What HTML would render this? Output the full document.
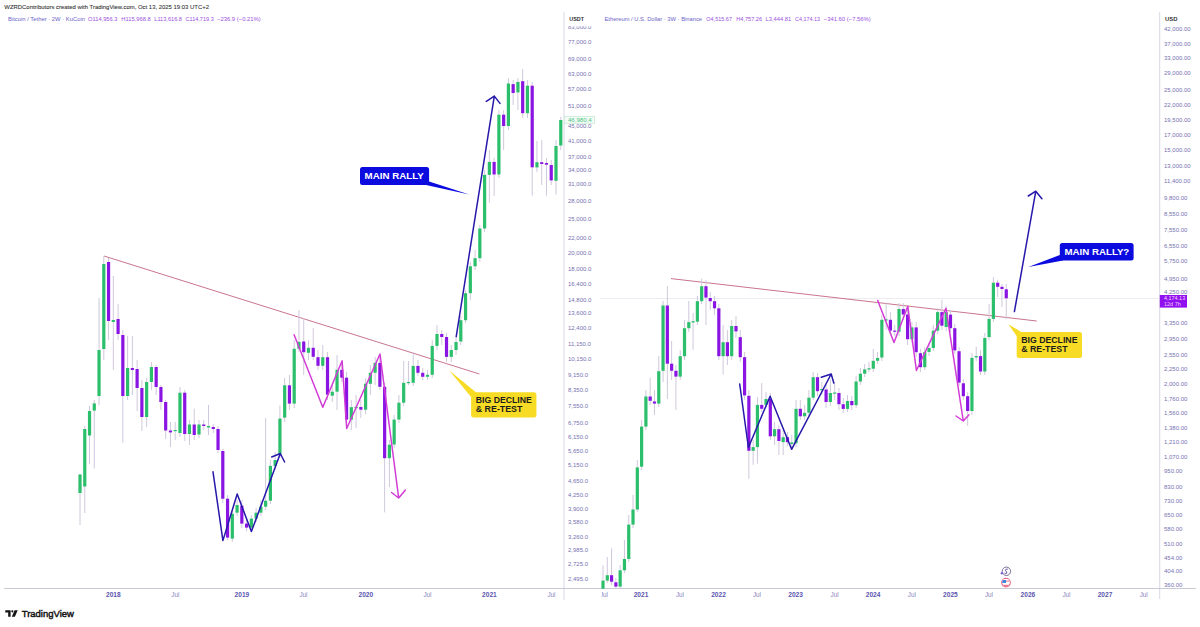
<!DOCTYPE html><html><head><meta charset="utf-8"><style>html,body{margin:0;padding:0;background:#fff;overflow:hidden}svg{display:block}text{font-family:"Liberation Sans",sans-serif}</style></head><body>
<svg width="1200" height="627" viewBox="0 0 1200 627">
<rect width="1200" height="627" fill="#ffffff"/>
<text x="4.3" y="8.8" font-size="5.9" fill="#2e2e2e" font-weight="normal" text-anchor="start" textLength="204.7" lengthAdjust="spacingAndGlyphs" stroke="#2e2e2e" stroke-width="0.07">WZRDContributors created with TradingView.com, Oct 13, 2025 19:03 UTC+2</text>
<text x="8" y="20.8" font-size="5.9" fill="#6c64c8" font-weight="normal" text-anchor="start" textLength="77" lengthAdjust="spacingAndGlyphs" >Bitcoin / Tether · 2W · KuCoin</text>
<text x="88" y="20.8" font-size="5.9" fill="#9a50e0" font-weight="normal" text-anchor="start" textLength="29.5" lengthAdjust="spacingAndGlyphs" >O114,956.3</text>
<text x="121.25" y="20.8" font-size="5.9" fill="#9a50e0" font-weight="normal" text-anchor="start" textLength="29.5" lengthAdjust="spacingAndGlyphs" >H115,968.8</text>
<text x="154.25" y="20.8" font-size="5.9" fill="#9a50e0" font-weight="normal" text-anchor="start" textLength="27.75" lengthAdjust="spacingAndGlyphs" >L113,616.8</text>
<text x="185.5" y="20.8" font-size="5.9" fill="#9a50e0" font-weight="normal" text-anchor="start" textLength="28.25" lengthAdjust="spacingAndGlyphs" >C114,719.3</text>
<text x="217" y="20.8" font-size="5.9" fill="#9a50e0" font-weight="normal" text-anchor="start" textLength="43.75" lengthAdjust="spacingAndGlyphs" >−236.9 (−0.21%)</text>
<text x="604.5" y="21" font-size="5.9" fill="#6c64c8" font-weight="normal" text-anchor="start" textLength="97.5" lengthAdjust="spacingAndGlyphs" >Ethereum / U.S. Dollar · 3W · Binance</text>
<text x="706.25" y="21" font-size="5.9" fill="#9a50e0" font-weight="normal" text-anchor="start" textLength="25.75" lengthAdjust="spacingAndGlyphs" >O4,515.67</text>
<text x="736.25" y="21" font-size="5.9" fill="#9a50e0" font-weight="normal" text-anchor="start" textLength="25.75" lengthAdjust="spacingAndGlyphs" >H4,757.26</text>
<text x="765.5" y="21" font-size="5.9" fill="#9a50e0" font-weight="normal" text-anchor="start" textLength="25.75" lengthAdjust="spacingAndGlyphs" >L3,444.81</text>
<text x="795" y="21" font-size="5.9" fill="#9a50e0" font-weight="normal" text-anchor="start" textLength="25" lengthAdjust="spacingAndGlyphs" >C4,174.13</text>
<text x="823.75" y="21" font-size="5.9" fill="#9a50e0" font-weight="normal" text-anchor="start" textLength="47.0" lengthAdjust="spacingAndGlyphs" >−341.60 (−7.56%)</text>
<path d="M564 12V600M1159.6 12V599" stroke="#e0e0ea" stroke-width="1.3" fill="none"/>
<path d="M4 588.5H1196" stroke="#c9c9d4" stroke-width="1" fill="none"/>
<path d="M600 298.5H1160" stroke="#ebebf1" stroke-width="1" fill="none"/>
<text x="569.3" y="20.8" font-size="5.9" fill="#333333" font-weight="bold" text-anchor="start" textLength="14.7" lengthAdjust="spacingAndGlyphs" >USDT</text>
<text x="1165" y="20.5" font-size="5.9" fill="#333333" font-weight="bold" text-anchor="start" >USD</text>
<defs><clipPath id="lc"><rect x="565" y="26.2" width="34" height="560"/></clipPath><clipPath id="rc"><rect x="599" y="0" width="561" height="627"/></clipPath><clipPath id="tc"><rect x="601.6" y="589" width="560" height="12"/></clipPath></defs>
<g clip-path="url(#lc)">
<text x="568" y="28.6" font-size="6" fill="#7672b2" font-weight="normal" text-anchor="start" >83,000.0</text>
<text x="568" y="44.0" font-size="6" fill="#7672b2" font-weight="normal" text-anchor="start" >77,000.0</text>
<text x="568" y="60.7" font-size="6" fill="#7672b2" font-weight="normal" text-anchor="start" >69,000.0</text>
<text x="568" y="75.6" font-size="6" fill="#7672b2" font-weight="normal" text-anchor="start" >63,000.0</text>
<text x="568" y="90.6" font-size="6" fill="#7672b2" font-weight="normal" text-anchor="start" >57,000.0</text>
<text x="568" y="108.3" font-size="6" fill="#7672b2" font-weight="normal" text-anchor="start" >51,000.0</text>
<text x="568" y="127.9" font-size="6" fill="#7672b2" font-weight="normal" text-anchor="start" >45,000.0</text>
<text x="568" y="142.7" font-size="6" fill="#7672b2" font-weight="normal" text-anchor="start" >41,000.0</text>
<text x="568" y="158.6" font-size="6" fill="#7672b2" font-weight="normal" text-anchor="start" >37,000.0</text>
<text x="568" y="172.0" font-size="6" fill="#7672b2" font-weight="normal" text-anchor="start" >34,000.0</text>
<text x="568" y="186.3" font-size="6" fill="#7672b2" font-weight="normal" text-anchor="start" >31,000.0</text>
<text x="568" y="202.5" font-size="6" fill="#7672b2" font-weight="normal" text-anchor="start" >28,000.0</text>
<text x="568" y="220.5" font-size="6" fill="#7672b2" font-weight="normal" text-anchor="start" >25,000.0</text>
<text x="568" y="239.9" font-size="6" fill="#7672b2" font-weight="normal" text-anchor="start" >22,000.0</text>
<text x="568" y="254.8" font-size="6" fill="#7672b2" font-weight="normal" text-anchor="start" >20,000.0</text>
<text x="568" y="271.4" font-size="6" fill="#7672b2" font-weight="normal" text-anchor="start" >18,000.0</text>
<text x="568" y="285.9" font-size="6" fill="#7672b2" font-weight="normal" text-anchor="start" >16,400.0</text>
<text x="568" y="302.0" font-size="6" fill="#7672b2" font-weight="normal" text-anchor="start" >14,800.0</text>
<text x="568" y="315.2" font-size="6" fill="#7672b2" font-weight="normal" text-anchor="start" >13,600.0</text>
<text x="568" y="330.1" font-size="6" fill="#7672b2" font-weight="normal" text-anchor="start" >12,400.0</text>
<text x="568" y="346.3" font-size="6" fill="#7672b2" font-weight="normal" text-anchor="start" >11,150.0</text>
<text x="568" y="361.0" font-size="6" fill="#7672b2" font-weight="normal" text-anchor="start" >10,150.0</text>
<text x="568" y="376.9" font-size="6" fill="#7672b2" font-weight="normal" text-anchor="start" >9,150.0</text>
<text x="568" y="391.8" font-size="6" fill="#7672b2" font-weight="normal" text-anchor="start" >8,350.0</text>
<text x="568" y="407.5" font-size="6" fill="#7672b2" font-weight="normal" text-anchor="start" >7,550.0</text>
<text x="568" y="425.1" font-size="6" fill="#7672b2" font-weight="normal" text-anchor="start" >6,750.0</text>
<text x="568" y="439.4" font-size="6" fill="#7672b2" font-weight="normal" text-anchor="start" >6,150.0</text>
<text x="568" y="452.5" font-size="6" fill="#7672b2" font-weight="normal" text-anchor="start" >5,650.0</text>
<text x="568" y="466.8" font-size="6" fill="#7672b2" font-weight="normal" text-anchor="start" >5,150.0</text>
<text x="568" y="483.3" font-size="6" fill="#7672b2" font-weight="normal" text-anchor="start" >4,650.0</text>
<text x="568" y="497.0" font-size="6" fill="#7672b2" font-weight="normal" text-anchor="start" >4,250.0</text>
<text x="568" y="510.8" font-size="6" fill="#7672b2" font-weight="normal" text-anchor="start" >3,900.0</text>
<text x="568" y="523.8" font-size="6" fill="#7672b2" font-weight="normal" text-anchor="start" >3,580.0</text>
<text x="568" y="538.6" font-size="6" fill="#7672b2" font-weight="normal" text-anchor="start" >3,260.0</text>
<text x="568" y="552.0" font-size="6" fill="#7672b2" font-weight="normal" text-anchor="start" >2,985.0</text>
<text x="568" y="566.3" font-size="6" fill="#7672b2" font-weight="normal" text-anchor="start" >2,725.0</text>
<text x="568" y="580.7" font-size="6" fill="#7672b2" font-weight="normal" text-anchor="start" >2,495.0</text>
</g>
<text x="1164" y="30.7" font-size="6" fill="#7672b2" font-weight="normal" text-anchor="start" >42,000.00</text>
<text x="1164" y="45.7" font-size="6" fill="#7672b2" font-weight="normal" text-anchor="start" >37,000.00</text>
<text x="1164" y="59.7" font-size="6" fill="#7672b2" font-weight="normal" text-anchor="start" >33,000.00</text>
<text x="1164" y="74.7" font-size="6" fill="#7672b2" font-weight="normal" text-anchor="start" >29,000.00</text>
<text x="1164" y="91.7" font-size="6" fill="#7672b2" font-weight="normal" text-anchor="start" >25,000.00</text>
<text x="1164" y="106.7" font-size="6" fill="#7672b2" font-weight="normal" text-anchor="start" >22,000.00</text>
<text x="1164" y="121.7" font-size="6" fill="#7672b2" font-weight="normal" text-anchor="start" >19,500.00</text>
<text x="1164" y="136.7" font-size="6" fill="#7672b2" font-weight="normal" text-anchor="start" >17,000.00</text>
<text x="1164" y="151.7" font-size="6" fill="#7672b2" font-weight="normal" text-anchor="start" >15,000.00</text>
<text x="1164" y="167.7" font-size="6" fill="#7672b2" font-weight="normal" text-anchor="start" >13,000.00</text>
<text x="1164" y="182.7" font-size="6" fill="#7672b2" font-weight="normal" text-anchor="start" >11,400.00</text>
<text x="1164" y="199.7" font-size="6" fill="#7672b2" font-weight="normal" text-anchor="start" >9,800.00</text>
<text x="1164" y="215.7" font-size="6" fill="#7672b2" font-weight="normal" text-anchor="start" >8,550.00</text>
<text x="1164" y="231.7" font-size="6" fill="#7672b2" font-weight="normal" text-anchor="start" >7,550.00</text>
<text x="1164" y="247.7" font-size="6" fill="#7672b2" font-weight="normal" text-anchor="start" >6,550.00</text>
<text x="1164" y="262.7" font-size="6" fill="#7672b2" font-weight="normal" text-anchor="start" >5,750.00</text>
<text x="1164" y="280.7" font-size="6" fill="#7672b2" font-weight="normal" text-anchor="start" >4,950.00</text>
<text x="1164" y="294.2" font-size="6" fill="#7672b2" font-weight="normal" text-anchor="start" >4,250.00</text>
<text x="1164" y="324.7" font-size="6" fill="#7672b2" font-weight="normal" text-anchor="start" >3,350.00</text>
<text x="1164" y="340.7" font-size="6" fill="#7672b2" font-weight="normal" text-anchor="start" >2,950.00</text>
<text x="1164" y="356.7" font-size="6" fill="#7672b2" font-weight="normal" text-anchor="start" >2,550.00</text>
<text x="1164" y="370.7" font-size="6" fill="#7672b2" font-weight="normal" text-anchor="start" >2,250.00</text>
<text x="1164" y="385.7" font-size="6" fill="#7672b2" font-weight="normal" text-anchor="start" >2,000.00</text>
<text x="1164" y="400.7" font-size="6" fill="#7672b2" font-weight="normal" text-anchor="start" >1,760.00</text>
<text x="1164" y="414.7" font-size="6" fill="#7672b2" font-weight="normal" text-anchor="start" >1,560.00</text>
<text x="1164" y="429.7" font-size="6" fill="#7672b2" font-weight="normal" text-anchor="start" >1,380.00</text>
<text x="1164" y="443.7" font-size="6" fill="#7672b2" font-weight="normal" text-anchor="start" >1,210.00</text>
<text x="1164" y="458.7" font-size="6" fill="#7672b2" font-weight="normal" text-anchor="start" >1,070.00</text>
<text x="1164" y="472.7" font-size="6" fill="#7672b2" font-weight="normal" text-anchor="start" >950.00</text>
<text x="1164" y="488.7" font-size="6" fill="#7672b2" font-weight="normal" text-anchor="start" >830.00</text>
<text x="1164" y="502.7" font-size="6" fill="#7672b2" font-weight="normal" text-anchor="start" >730.00</text>
<text x="1164" y="516.7" font-size="6" fill="#7672b2" font-weight="normal" text-anchor="start" >650.00</text>
<text x="1164" y="530.7" font-size="6" fill="#7672b2" font-weight="normal" text-anchor="start" >580.00</text>
<text x="1164" y="545.7" font-size="6" fill="#7672b2" font-weight="normal" text-anchor="start" >510.00</text>
<text x="1164" y="559.7" font-size="6" fill="#7672b2" font-weight="normal" text-anchor="start" >454.00</text>
<text x="1164" y="572.7" font-size="6" fill="#7672b2" font-weight="normal" text-anchor="start" >404.00</text>
<text x="1164" y="586.7" font-size="6" fill="#7672b2" font-weight="normal" text-anchor="start" >360.00</text>
<text x="113.3" y="597" font-size="6.3" fill="#5b54b0" font-weight="bold" text-anchor="middle" textLength="14.6" lengthAdjust="spacingAndGlyphs" >2018</text>
<text x="241.9" y="597" font-size="6.3" fill="#5b54b0" font-weight="bold" text-anchor="middle" textLength="14.6" lengthAdjust="spacingAndGlyphs" >2019</text>
<text x="365.8" y="597" font-size="6.3" fill="#5b54b0" font-weight="bold" text-anchor="middle" textLength="14.6" lengthAdjust="spacingAndGlyphs" >2020</text>
<text x="489.4" y="597" font-size="6.3" fill="#5b54b0" font-weight="bold" text-anchor="middle" textLength="14.6" lengthAdjust="spacingAndGlyphs" >2021</text>
<text x="175.4" y="597" font-size="6.3" fill="#8a86c0" font-weight="normal" text-anchor="middle" >Jul</text>
<text x="303.5" y="597" font-size="6.3" fill="#8a86c0" font-weight="normal" text-anchor="middle" >Jul</text>
<text x="427.5" y="597" font-size="6.3" fill="#8a86c0" font-weight="normal" text-anchor="middle" >Jul</text>
<text x="551.5" y="597" font-size="6.3" fill="#8a86c0" font-weight="normal" text-anchor="middle" >Jul</text>
<g clip-path="url(#tc)">
<text x="641" y="597" font-size="6.3" fill="#5b54b0" font-weight="bold" text-anchor="middle" textLength="14.6" lengthAdjust="spacingAndGlyphs" >2021</text>
<text x="718.5" y="597" font-size="6.3" fill="#5b54b0" font-weight="bold" text-anchor="middle" textLength="14.6" lengthAdjust="spacingAndGlyphs" >2022</text>
<text x="795.6" y="597" font-size="6.3" fill="#5b54b0" font-weight="bold" text-anchor="middle" textLength="14.6" lengthAdjust="spacingAndGlyphs" >2023</text>
<text x="873.1" y="597" font-size="6.3" fill="#5b54b0" font-weight="bold" text-anchor="middle" textLength="14.6" lengthAdjust="spacingAndGlyphs" >2024</text>
<text x="950.4" y="597" font-size="6.3" fill="#5b54b0" font-weight="bold" text-anchor="middle" textLength="14.6" lengthAdjust="spacingAndGlyphs" >2025</text>
<text x="1027.9" y="597" font-size="6.3" fill="#5b54b0" font-weight="bold" text-anchor="middle" textLength="14.6" lengthAdjust="spacingAndGlyphs" >2026</text>
<text x="1105" y="597" font-size="6.3" fill="#5b54b0" font-weight="bold" text-anchor="middle" textLength="14.6" lengthAdjust="spacingAndGlyphs" >2027</text>
<text x="604" y="597" font-size="6.3" fill="#8a86c0" font-weight="normal" text-anchor="middle" >Jul</text>
<text x="680" y="597" font-size="6.3" fill="#8a86c0" font-weight="normal" text-anchor="middle" >Jul</text>
<text x="757" y="597" font-size="6.3" fill="#8a86c0" font-weight="normal" text-anchor="middle" >Jul</text>
<text x="834.6" y="597" font-size="6.3" fill="#8a86c0" font-weight="normal" text-anchor="middle" >Jul</text>
<text x="911.9" y="597" font-size="6.3" fill="#8a86c0" font-weight="normal" text-anchor="middle" >Jul</text>
<text x="989" y="597" font-size="6.3" fill="#8a86c0" font-weight="normal" text-anchor="middle" >Jul</text>
<text x="1066.5" y="597" font-size="6.3" fill="#8a86c0" font-weight="normal" text-anchor="middle" >Jul</text>
<text x="1143.7" y="597" font-size="6.3" fill="#8a86c0" font-weight="normal" text-anchor="middle" >Jul</text>
</g>
<path d="M104 256L479.4 374" stroke="#c8758f" stroke-width="1" fill="none"/>
<path d="M671 278.6L1036.7 321" stroke="#c8758f" stroke-width="1" fill="none"/>
<path d="M80.00 474.0V525.0M84.76 426.0V513.0M89.52 406.0V464.0M94.28 400.0V468.5M99.04 298.0V405.0M103.80 256.0V360.0M108.56 258.0V340.0M113.32 276.0V370.0M118.08 304.0V340.0M122.84 330.0V442.7M127.60 336.0V400.0M132.36 336.0V395.0M137.12 360.0V411.0M141.88 380.0V431.0M146.64 378.0V427.0M151.40 362.0V390.0M156.16 365.0V395.0M160.92 385.0V410.0M165.68 400.0V439.0M170.44 422.0V447.0M175.20 422.0V440.0M179.96 387.0V437.0M184.72 390.0V441.0M189.48 420.0V445.0M194.24 408.5V440.0M199.00 420.0V438.0M203.76 420.0V430.0M208.52 405.0V435.0M213.28 424.0V433.0M218.04 426.0V453.0M222.80 449.0V503.0M227.56 495.0V540.0M232.32 510.0V542.0M237.08 500.0V516.0M241.84 500.0V528.0M246.60 520.0V531.0M251.36 515.0V531.0M256.12 508.0V522.0M260.88 500.0V516.0M265.64 418.0V510.0M270.40 460.0V504.0M275.16 452.0V470.0M279.92 405.6V458.0M284.68 378.0V422.0M289.44 375.0V410.0M294.20 340.0V408.0M298.96 310.0V352.0M303.72 318.0V375.0M308.48 340.0V360.0M313.24 328.0V360.0M318.00 350.0V370.0M322.76 345.0V370.0M327.52 352.0V400.0M332.28 385.0V402.0M337.04 355.0V410.0M341.80 362.0V382.0M346.56 372.0V424.0M351.32 400.0V430.0M356.08 395.0V428.0M360.84 400.0V418.0M365.60 378.0V414.0M370.36 365.0V395.0M375.12 357.0V385.0M379.88 355.0V390.0M384.64 383.0V512.4M389.40 440.0V487.0M394.16 415.0V448.0M398.92 395.0V423.0M403.68 361.0V406.0M408.44 361.0V385.0M413.20 352.0V386.0M417.96 360.0V376.0M422.72 368.0V380.0M427.48 370.0V380.0M432.24 340.0V378.0M437.00 325.0V350.0M441.76 330.0V345.0M446.52 333.0V362.0M451.28 345.0V362.0M456.04 338.0V355.0M460.80 316.0V345.0M465.56 290.0V323.0M470.32 262.0V300.0M475.08 250.0V270.0M479.84 225.0V262.0M484.60 170.0V232.0M489.36 150.0V202.7M494.12 158.0V196.0M498.88 110.0V178.0M503.64 110.0V150.0M508.40 78.0V130.0M513.16 80.0V105.0M517.92 78.0V110.0M522.68 69.0V118.0M527.44 80.0V118.0M532.20 82.0V195.7M536.96 141.0V171.8M541.72 140.0V185.0M546.48 158.0V195.7M551.24 160.0V185.0M556.00 140.0V194.7M560.76 117.0V150.0" stroke="#d0c8dc" stroke-width="1" fill="none"/>
<rect x="78.40" y="474.5" width="3.2" height="18.5" fill="#2bbf6c"/><rect x="83.16" y="429.0" width="3.2" height="57.5" fill="#2bbf6c"/><rect x="87.92" y="411.0" width="3.2" height="24.5" fill="#2bbf6c"/><rect x="92.68" y="403.4" width="3.2" height="7.2" fill="#2bbf6c"/><rect x="97.44" y="350.0" width="3.2" height="46.0" fill="#2bbf6c"/><rect x="102.20" y="264.0" width="3.2" height="85.0" fill="#2bbf6c"/><rect x="106.96" y="262.0" width="3.2" height="59.0" fill="#8a14e2"/><rect x="111.72" y="320.0" width="3.2" height="2.0" fill="#2bbf6c"/><rect x="116.48" y="319.0" width="3.2" height="15.0" fill="#8a14e2"/><rect x="121.24" y="335.0" width="3.2" height="61.0" fill="#8a14e2"/><rect x="126.00" y="368.0" width="3.2" height="28.0" fill="#2bbf6c"/><rect x="130.76" y="368.0" width="3.2" height="2.0" fill="#8a14e2"/><rect x="135.52" y="369.0" width="3.2" height="19.0" fill="#8a14e2"/><rect x="140.28" y="388.0" width="3.2" height="29.0" fill="#8a14e2"/><rect x="145.04" y="382.0" width="3.2" height="35.0" fill="#2bbf6c"/><rect x="149.80" y="367.0" width="3.2" height="15.0" fill="#2bbf6c"/><rect x="154.56" y="367.0" width="3.2" height="20.0" fill="#8a14e2"/><rect x="159.32" y="387.0" width="3.2" height="15.0" fill="#8a14e2"/><rect x="164.08" y="402.0" width="3.2" height="28.5" fill="#8a14e2"/><rect x="168.84" y="430.5" width="3.2" height="1.9" fill="#8a14e2"/><rect x="173.60" y="430.0" width="3.2" height="1.2" fill="#2bbf6c"/><rect x="178.36" y="392.7" width="3.2" height="40.3" fill="#2bbf6c"/><rect x="183.12" y="392.7" width="3.2" height="41.3" fill="#8a14e2"/><rect x="187.88" y="424.5" width="3.2" height="9.5" fill="#2bbf6c"/><rect x="192.64" y="424.5" width="3.2" height="10.5" fill="#8a14e2"/><rect x="197.40" y="424.5" width="3.2" height="10.0" fill="#2bbf6c"/><rect x="202.16" y="424.5" width="3.2" height="1.5" fill="#8a14e2"/><rect x="206.92" y="426.0" width="3.2" height="1.5" fill="#2bbf6c"/><rect x="211.68" y="427.0" width="3.2" height="2.0" fill="#8a14e2"/><rect x="216.44" y="429.0" width="3.2" height="21.0" fill="#8a14e2"/><rect x="221.20" y="451.0" width="3.2" height="47.7" fill="#8a14e2"/><rect x="225.96" y="498.7" width="3.2" height="38.9" fill="#8a14e2"/><rect x="230.72" y="513.7" width="3.2" height="24.9" fill="#2bbf6c"/><rect x="235.48" y="505.0" width="3.2" height="7.7" fill="#2bbf6c"/><rect x="240.24" y="505.7" width="3.2" height="17.9" fill="#8a14e2"/><rect x="245.00" y="523.6" width="3.2" height="4.0" fill="#8a14e2"/><rect x="249.76" y="518.6" width="3.2" height="9.0" fill="#2bbf6c"/><rect x="254.52" y="512.7" width="3.2" height="5.9" fill="#2bbf6c"/><rect x="259.28" y="506.7" width="3.2" height="6.0" fill="#2bbf6c"/><rect x="264.04" y="500.7" width="3.2" height="6.0" fill="#2bbf6c"/><rect x="268.80" y="465.9" width="3.2" height="34.8" fill="#2bbf6c"/><rect x="273.56" y="460.0" width="3.2" height="6.0" fill="#2bbf6c"/><rect x="278.32" y="418.6" width="3.2" height="35.4" fill="#2bbf6c"/><rect x="283.08" y="385.3" width="3.2" height="32.3" fill="#2bbf6c"/><rect x="287.84" y="385.3" width="3.2" height="18.3" fill="#8a14e2"/><rect x="292.60" y="348.8" width="3.2" height="54.8" fill="#2bbf6c"/><rect x="297.36" y="341.9" width="3.2" height="6.9" fill="#2bbf6c"/><rect x="302.12" y="341.5" width="3.2" height="10.7" fill="#8a14e2"/><rect x="306.88" y="347.8" width="3.2" height="5.0" fill="#2bbf6c"/><rect x="311.64" y="347.8" width="3.2" height="9.0" fill="#8a14e2"/><rect x="316.40" y="357.2" width="3.2" height="8.6" fill="#8a14e2"/><rect x="321.16" y="357.2" width="3.2" height="8.6" fill="#2bbf6c"/><rect x="325.92" y="357.2" width="3.2" height="37.5" fill="#8a14e2"/><rect x="330.68" y="391.7" width="3.2" height="4.0" fill="#2bbf6c"/><rect x="335.44" y="369.8" width="3.2" height="21.9" fill="#2bbf6c"/><rect x="340.20" y="369.8" width="3.2" height="7.9" fill="#8a14e2"/><rect x="344.96" y="377.7" width="3.2" height="41.9" fill="#8a14e2"/><rect x="349.72" y="407.2" width="3.2" height="12.4" fill="#2bbf6c"/><rect x="354.48" y="407.0" width="3.2" height="1.2" fill="#2bbf6c"/><rect x="359.24" y="407.0" width="3.2" height="2.7" fill="#8a14e2"/><rect x="364.00" y="383.7" width="3.2" height="26.0" fill="#2bbf6c"/><rect x="368.76" y="372.8" width="3.2" height="11.0" fill="#2bbf6c"/><rect x="373.52" y="362.9" width="3.2" height="9.9" fill="#2bbf6c"/><rect x="378.28" y="362.9" width="3.2" height="23.9" fill="#8a14e2"/><rect x="383.04" y="386.8" width="3.2" height="71.4" fill="#8a14e2"/><rect x="387.80" y="444.7" width="3.2" height="13.5" fill="#2bbf6c"/><rect x="392.56" y="419.6" width="3.2" height="24.9" fill="#2bbf6c"/><rect x="397.32" y="402.7" width="3.2" height="16.9" fill="#2bbf6c"/><rect x="402.08" y="382.8" width="3.2" height="19.9" fill="#2bbf6c"/><rect x="406.84" y="382.0" width="3.2" height="1.2" fill="#2bbf6c"/><rect x="411.60" y="365.9" width="3.2" height="16.9" fill="#2bbf6c"/><rect x="416.36" y="365.9" width="3.2" height="6.9" fill="#8a14e2"/><rect x="421.12" y="372.8" width="3.2" height="4.0" fill="#8a14e2"/><rect x="425.88" y="374.8" width="3.2" height="2.0" fill="#2bbf6c"/><rect x="430.64" y="345.9" width="3.2" height="28.9" fill="#2bbf6c"/><rect x="435.40" y="334.0" width="3.2" height="11.9" fill="#2bbf6c"/><rect x="440.16" y="334.0" width="3.2" height="3.0" fill="#8a14e2"/><rect x="444.92" y="337.0" width="3.2" height="19.9" fill="#8a14e2"/><rect x="449.68" y="350.0" width="3.2" height="6.9" fill="#2bbf6c"/><rect x="454.44" y="342.0" width="3.2" height="8.0" fill="#2bbf6c"/><rect x="459.20" y="320.2" width="3.2" height="21.3" fill="#2bbf6c"/><rect x="463.96" y="293.2" width="3.2" height="27.0" fill="#2bbf6c"/><rect x="468.72" y="266.3" width="3.2" height="26.9" fill="#2bbf6c"/><rect x="473.48" y="258.2" width="3.2" height="8.1" fill="#2bbf6c"/><rect x="478.24" y="228.5" width="3.2" height="29.7" fill="#2bbf6c"/><rect x="483.00" y="174.9" width="3.2" height="53.6" fill="#2bbf6c"/><rect x="487.76" y="161.9" width="3.2" height="13.0" fill="#2bbf6c"/><rect x="492.52" y="161.9" width="3.2" height="12.6" fill="#8a14e2"/><rect x="497.28" y="114.7" width="3.2" height="59.8" fill="#2bbf6c"/><rect x="502.04" y="114.7" width="3.2" height="11.3" fill="#8a14e2"/><rect x="506.80" y="83.5" width="3.2" height="42.5" fill="#2bbf6c"/><rect x="511.56" y="84.1" width="3.2" height="8.9" fill="#8a14e2"/><rect x="516.32" y="81.9" width="3.2" height="10.5" fill="#2bbf6c"/><rect x="521.08" y="81.2" width="3.2" height="32.0" fill="#8a14e2"/><rect x="525.84" y="85.7" width="3.2" height="27.5" fill="#2bbf6c"/><rect x="530.60" y="85.7" width="3.2" height="81.6" fill="#8a14e2"/><rect x="535.36" y="162.2" width="3.2" height="5.2" fill="#2bbf6c"/><rect x="540.12" y="162.2" width="3.2" height="1.8" fill="#8a14e2"/><rect x="544.88" y="163.0" width="3.2" height="1.7" fill="#8a14e2"/><rect x="549.64" y="165.0" width="3.2" height="15.4" fill="#8a14e2"/><rect x="554.40" y="146.0" width="3.2" height="34.8" fill="#2bbf6c"/><rect x="559.16" y="120.0" width="3.2" height="25.5" fill="#2bbf6c"/>
<g clip-path="url(#rc)">
<path d="M603.00 565.5V589.0M607.29 557.0V583.0M611.58 548.3V585.0M615.87 578.0V589.0M620.16 565.0V589.0M624.45 540.0V573.0M628.74 515.0V562.0M633.03 495.0V528.0M637.32 460.0V512.0M641.61 420.0V470.0M645.90 390.0V430.0M650.19 377.7V405.0M654.48 390.0V415.0M658.77 356.0V407.0M663.06 301.0V382.0M667.35 286.2V399.0M671.64 341.0V380.0M675.93 365.0V410.0M680.22 350.0V380.0M684.51 320.0V360.0M688.80 301.0V332.0M693.09 313.0V349.7M697.38 296.0V325.0M701.67 278.6V304.0M705.96 280.0V325.0M710.25 292.0V310.0M714.54 296.0V315.0M718.83 304.0V360.0M723.12 325.0V374.5M727.41 330.0V365.0M731.70 320.0V360.0M735.99 316.3V338.0M740.28 330.0V362.0M744.57 352.0V400.0M748.86 390.0V478.8M753.15 440.0V464.8M757.44 397.0V463.7M761.73 383.0V412.0M766.02 392.0V408.0M770.31 393.0V440.0M774.60 422.0V445.0M778.89 425.0V455.0M783.18 430.0V455.0M787.47 432.0V446.0M791.76 435.0V450.0M796.05 400.0V447.0M800.34 400.0V420.0M804.63 405.0V420.0M808.92 390.0V416.0M813.21 372.0V400.0M817.50 373.0V396.0M821.79 382.0V395.0M826.08 385.0V408.0M830.37 379.4V406.0M834.66 382.0V400.0M838.95 388.0V410.0M843.24 398.0V413.0M847.53 395.0V412.0M851.82 396.0V410.0M856.11 376.0V408.0M860.40 368.0V385.0M864.69 364.0V377.0M868.98 362.0V372.0M873.27 349.0V372.0M877.56 352.0V364.0M881.85 315.0V361.0M886.14 302.6V330.0M890.43 312.0V335.0M894.72 325.0V336.0M899.01 303.0V336.0M903.30 303.0V320.0M907.59 310.0V345.0M911.88 322.0V343.0M916.17 322.0V357.0M920.46 349.0V372.0M924.75 347.0V370.0M929.04 343.0V356.0M933.33 325.0V351.0M937.62 308.0V334.0M941.91 299.7V330.0M946.20 306.0V331.0M950.49 310.0V332.0M954.78 324.0V354.0M959.07 347.0V386.0M963.36 379.0V400.0M967.65 392.0V425.9M971.94 353.0V415.0M976.23 346.7V361.0M980.52 350.0V375.0M984.81 333.0V375.0M989.10 304.0V340.0M993.39 277.2V322.0M997.68 280.0V297.0M1001.97 284.0V307.0M1006.26 284.0V319.3" stroke="#d0c8dc" stroke-width="1" fill="none"/>
<rect x="601.40" y="580.6" width="3.2" height="8.2" fill="#2bbf6c"/><rect x="605.69" y="575.2" width="3.2" height="5.4" fill="#2bbf6c"/><rect x="609.98" y="575.2" width="3.2" height="6.5" fill="#8a14e2"/><rect x="614.27" y="582.3" width="3.2" height="4.3" fill="#8a14e2"/><rect x="618.56" y="570.3" width="3.2" height="16.3" fill="#2bbf6c"/><rect x="622.85" y="559.0" width="3.2" height="11.3" fill="#2bbf6c"/><rect x="627.14" y="524.6" width="3.2" height="34.4" fill="#2bbf6c"/><rect x="631.43" y="509.5" width="3.2" height="15.1" fill="#2bbf6c"/><rect x="635.72" y="467.4" width="3.2" height="42.1" fill="#2bbf6c"/><rect x="640.01" y="426.6" width="3.2" height="40.1" fill="#2bbf6c"/><rect x="644.30" y="396.5" width="3.2" height="30.1" fill="#2bbf6c"/><rect x="648.59" y="396.5" width="3.2" height="4.3" fill="#8a14e2"/><rect x="652.88" y="401.5" width="3.2" height="2.1" fill="#8a14e2"/><rect x="657.17" y="371.2" width="3.2" height="32.4" fill="#2bbf6c"/><rect x="661.46" y="305.5" width="3.2" height="65.3" fill="#2bbf6c"/><rect x="665.75" y="305.5" width="3.2" height="58.2" fill="#8a14e2"/><rect x="670.04" y="363.7" width="3.2" height="7.1" fill="#8a14e2"/><rect x="674.33" y="370.8" width="3.2" height="5.8" fill="#8a14e2"/><rect x="678.62" y="356.2" width="3.2" height="20.4" fill="#2bbf6c"/><rect x="682.91" y="328.2" width="3.2" height="28.0" fill="#2bbf6c"/><rect x="687.20" y="322.1" width="3.2" height="6.1" fill="#2bbf6c"/><rect x="691.49" y="321.2" width="3.2" height="1.3" fill="#2bbf6c"/><rect x="695.78" y="301.2" width="3.2" height="20.5" fill="#2bbf6c"/><rect x="700.07" y="286.2" width="3.2" height="15.0" fill="#2bbf6c"/><rect x="704.36" y="286.2" width="3.2" height="11.4" fill="#8a14e2"/><rect x="708.65" y="298.0" width="3.2" height="3.2" fill="#8a14e2"/><rect x="712.94" y="301.2" width="3.2" height="7.1" fill="#8a14e2"/><rect x="717.23" y="308.3" width="3.2" height="47.9" fill="#8a14e2"/><rect x="721.52" y="342.2" width="3.2" height="14.0" fill="#2bbf6c"/><rect x="725.81" y="342.2" width="3.2" height="14.0" fill="#8a14e2"/><rect x="730.10" y="326.0" width="3.2" height="30.2" fill="#2bbf6c"/><rect x="734.39" y="326.0" width="3.2" height="5.4" fill="#8a14e2"/><rect x="738.68" y="337.2" width="3.2" height="20.0" fill="#8a14e2"/><rect x="742.97" y="357.2" width="3.2" height="38.2" fill="#8a14e2"/><rect x="747.26" y="395.8" width="3.2" height="55.0" fill="#8a14e2"/><rect x="751.55" y="447.1" width="3.2" height="3.7" fill="#2bbf6c"/><rect x="755.84" y="404.9" width="3.2" height="42.2" fill="#2bbf6c"/><rect x="760.13" y="404.9" width="3.2" height="3.9" fill="#8a14e2"/><rect x="764.42" y="399.0" width="3.2" height="5.9" fill="#2bbf6c"/><rect x="768.71" y="399.0" width="3.2" height="37.3" fill="#8a14e2"/><rect x="773.00" y="429.2" width="3.2" height="7.1" fill="#2bbf6c"/><rect x="777.29" y="429.2" width="3.2" height="11.8" fill="#8a14e2"/><rect x="781.58" y="437.2" width="3.2" height="5.0" fill="#2bbf6c"/><rect x="785.87" y="437.2" width="3.2" height="5.0" fill="#8a14e2"/><rect x="790.16" y="442.5" width="3.2" height="1.5" fill="#2bbf6c"/><rect x="794.45" y="408.8" width="3.2" height="34.4" fill="#2bbf6c"/><rect x="798.74" y="408.8" width="3.2" height="7.5" fill="#8a14e2"/><rect x="803.03" y="412.8" width="3.2" height="3.5" fill="#2bbf6c"/><rect x="807.32" y="397.7" width="3.2" height="15.1" fill="#2bbf6c"/><rect x="811.61" y="377.2" width="3.2" height="20.5" fill="#2bbf6c"/><rect x="815.90" y="377.2" width="3.2" height="14.0" fill="#8a14e2"/><rect x="820.19" y="389.0" width="3.2" height="1.2" fill="#2bbf6c"/><rect x="824.48" y="389.5" width="3.2" height="12.5" fill="#8a14e2"/><rect x="828.77" y="393.0" width="3.2" height="9.0" fill="#2bbf6c"/><rect x="833.06" y="392.5" width="3.2" height="1.2" fill="#2bbf6c"/><rect x="837.35" y="393.0" width="3.2" height="11.2" fill="#8a14e2"/><rect x="841.64" y="404.2" width="3.2" height="4.7" fill="#8a14e2"/><rect x="845.93" y="401.0" width="3.2" height="7.9" fill="#2bbf6c"/><rect x="850.22" y="401.0" width="3.2" height="4.2" fill="#8a14e2"/><rect x="854.51" y="381.5" width="3.2" height="23.7" fill="#2bbf6c"/><rect x="858.80" y="373.7" width="3.2" height="7.8" fill="#2bbf6c"/><rect x="863.09" y="369.4" width="3.2" height="4.3" fill="#2bbf6c"/><rect x="867.38" y="368.3" width="3.2" height="1.2" fill="#2bbf6c"/><rect x="871.67" y="360.8" width="3.2" height="7.9" fill="#2bbf6c"/><rect x="875.96" y="358.0" width="3.2" height="2.8" fill="#2bbf6c"/><rect x="880.25" y="319.8" width="3.2" height="37.7" fill="#2bbf6c"/><rect x="884.54" y="319.3" width="3.2" height="1.2" fill="#2bbf6c"/><rect x="888.83" y="319.8" width="3.2" height="10.8" fill="#8a14e2"/><rect x="893.12" y="330.6" width="3.2" height="1.2" fill="#8a14e2"/><rect x="897.41" y="309.0" width="3.2" height="22.7" fill="#2bbf6c"/><rect x="901.70" y="309.0" width="3.2" height="5.5" fill="#8a14e2"/><rect x="905.99" y="314.5" width="3.2" height="24.7" fill="#8a14e2"/><rect x="910.28" y="327.4" width="3.2" height="11.8" fill="#2bbf6c"/><rect x="914.57" y="327.4" width="3.2" height="24.8" fill="#8a14e2"/><rect x="918.86" y="353.2" width="3.2" height="14.0" fill="#8a14e2"/><rect x="923.15" y="352.2" width="3.2" height="15.0" fill="#2bbf6c"/><rect x="927.44" y="348.0" width="3.2" height="4.0" fill="#2bbf6c"/><rect x="931.73" y="330.7" width="3.2" height="17.3" fill="#2bbf6c"/><rect x="936.02" y="312.1" width="3.2" height="18.6" fill="#2bbf6c"/><rect x="940.31" y="312.1" width="3.2" height="13.6" fill="#8a14e2"/><rect x="944.60" y="312.1" width="3.2" height="14.9" fill="#2bbf6c"/><rect x="948.89" y="314.6" width="3.2" height="13.6" fill="#8a14e2"/><rect x="953.18" y="328.2" width="3.2" height="22.2" fill="#8a14e2"/><rect x="957.47" y="351.2" width="3.2" height="31.4" fill="#8a14e2"/><rect x="961.76" y="383.3" width="3.2" height="12.9" fill="#8a14e2"/><rect x="966.05" y="396.2" width="3.2" height="14.8" fill="#8a14e2"/><rect x="970.34" y="357.9" width="3.2" height="53.1" fill="#2bbf6c"/><rect x="974.63" y="356.1" width="3.2" height="1.3" fill="#2bbf6c"/><rect x="978.92" y="356.1" width="3.2" height="15.4" fill="#8a14e2"/><rect x="983.21" y="338.0" width="3.2" height="33.5" fill="#2bbf6c"/><rect x="987.50" y="318.9" width="3.2" height="18.2" fill="#2bbf6c"/><rect x="991.79" y="282.7" width="3.2" height="36.2" fill="#2bbf6c"/><rect x="996.08" y="282.7" width="3.2" height="4.1" fill="#8a14e2"/><rect x="1000.37" y="286.8" width="3.2" height="2.2" fill="#8a14e2"/><rect x="1004.66" y="289.3" width="3.2" height="9.0" fill="#8a14e2"/>
</g>
<path d="M213 471.8L222.9 540.6L237.2 494L251.4 531.6L280.3 453.5M271.7 457L280.3 453.5L284.6 462" stroke="#2618aa" stroke-width="1.5" fill="none" stroke-linejoin="round" stroke-linecap="round"/>
<path d="M294.1 334.8L322.8 407.2L342.1 360.8L346.7 428.5L380 354L398.7 498M391.6 492.5L398.7 498L405.4 490" stroke="#d23cd6" stroke-width="1.5" fill="none" stroke-linejoin="round" stroke-linecap="round"/>
<path d="M456.2 336.7L494.3 96.1M486.3 101.3L494.3 96.1L500 103.4" stroke="#2618aa" stroke-width="1.5" fill="none" stroke-linejoin="round" stroke-linecap="round"/>
<path d="M739.7 384L748.4 447.5L770.1 396.3L791.6 449.3L831.2 374M821.3 377.2L831.2 374L833.8 383" stroke="#2618aa" stroke-width="1.5" fill="none" stroke-linejoin="round" stroke-linecap="round"/>
<path d="M877.7 300.5L894 342.5L907.8 306.3L916.4 370.5L946 308.4L963.3 421M956 416L963.3 421L969 414.7" stroke="#d23cd6" stroke-width="1.5" fill="none" stroke-linejoin="round" stroke-linecap="round"/>
<path d="M1014.4 311.6L1035.8 191.2M1028.3 196L1035.8 191.2L1041.9 198.8" stroke="#2618aa" stroke-width="1.5" fill="none" stroke-linejoin="round" stroke-linecap="round"/>
<path d="M426 180.5L469.2 194.6L426 185.1Z" fill="#0b0be0"/>
<rect x="360" y="167.1" width="69.1" height="18" rx="2.5" fill="#0b0be0"/>
<text x="364.6" y="179.4" font-size="9.8" fill="#ffffff" font-weight="bold" text-anchor="start" textLength="59.1" lengthAdjust="spacingAndGlyphs" >MAIN RALLY</text>
<path d="M1059.8 255L1028.3 266.9L1063 260.5Z" fill="#0b0be0"/>
<rect x="1059.8" y="243" width="73.8" height="17.5" rx="2.5" fill="#0b0be0"/>
<text x="1064.5" y="255" font-size="9.8" fill="#ffffff" font-weight="bold" text-anchor="start" textLength="64.8" lengthAdjust="spacingAndGlyphs" >MAIN RALLY?</text>
<path d="M449.3 370.4L476.5 392.8L471.1 397Z" fill="#f8db24"/>
<rect x="471.1" y="392.3" width="65.3" height="25.2" rx="2.5" fill="#f8db24"/>
<text x="475.8" y="402.7" font-size="8.8" fill="#1c1c1c" font-weight="bold" text-anchor="start" textLength="56" lengthAdjust="spacingAndGlyphs" >BIG DECLINE</text>
<text x="475.8" y="411.8" font-size="8.8" fill="#1c1c1c" font-weight="bold" text-anchor="start" textLength="46.6" lengthAdjust="spacingAndGlyphs" >&amp; RE-TEST</text>
<path d="M1008.3 324.2L1022 332.5L1016.7 336Z" fill="#f8db24"/>
<rect x="1016.7" y="332" width="65.3" height="25.9" rx="2.5" fill="#f8db24"/>
<text x="1021.25" y="343" font-size="8.8" fill="#1c1c1c" font-weight="bold" text-anchor="start" textLength="56.25" lengthAdjust="spacingAndGlyphs" >BIG DECLINE</text>
<text x="1021.25" y="351.9" font-size="8.8" fill="#1c1c1c" font-weight="bold" text-anchor="start" textLength="46.25" lengthAdjust="spacingAndGlyphs" >&amp; RE-TEST</text>
<rect x="564.4" y="116.3" width="30.3" height="7" fill="#f4fbf6" stroke="#c4e9d2" stroke-width="0.7"/>
<text x="567.9" y="121.6" font-size="5.2" fill="#4cc684" font-weight="normal" text-anchor="start" textLength="23.9" lengthAdjust="spacingAndGlyphs" >46,980.4</text>
<rect x="1159.8" y="295" width="27.2" height="12.6" fill="#9010f0"/>
<text x="1163.9" y="299.9" font-size="5.2" fill="#f4d8ff" font-weight="normal" text-anchor="start" textLength="21.3" lengthAdjust="spacingAndGlyphs" >4,174.13</text>
<text x="1163.9" y="306" font-size="5.2" fill="#ecc8ff" font-weight="normal" text-anchor="start" textLength="17.1" lengthAdjust="spacingAndGlyphs" >12d 7h</text>
<defs><clipPath id="fc"><circle cx="1006" cy="582.6" r="3.8"/></clipPath></defs>
<circle cx="1006.4" cy="571.3" r="4.2" fill="#fff" stroke="#6e6090" stroke-width="0.9"/>
<path d="M1007.8 569.2Q1005.2 568.6 1005.3 570.6Q1007.6 571.6 1006.6 573.4Q1005.2 574 1004.4 573" stroke="#5a4a9a" stroke-width="0.9" fill="none"/>
<path d="M1000.3 573.2L1002 571.8L1003.4 573.4L1001.8 574.8Z" fill="#7a5ad8"/>
<circle cx="1006" cy="582.6" r="4.3" fill="#fff" stroke="#e86c88" stroke-width="1.2"/>
<g clip-path="url(#fc)"><rect x="1001" y="579" width="10" height="4.2" fill="#fff"/><rect x="1001.5" y="580" width="4.5" height="3" fill="#3f86dd"/><rect x="1006" y="580.6" width="5" height="1" fill="#e86c88"/><rect x="1001" y="584.8" width="10" height="2" fill="#ef7890"/></g>
<g fill="#131313">
<path d="M5.3 610.2H10.6V616.7H8.2V612.5H5.3Z"/>
<circle cx="12.3" cy="611.3" r="1.1"/>
<path d="M14.6 610.2H17.7L14.9 616.7H11.8Z"/>
</g>
<text x="21.7" y="616.8" font-size="9.8" fill="#131313" font-weight="normal" text-anchor="start" textLength="52.3" lengthAdjust="spacingAndGlyphs" stroke="#131313" stroke-width="0.45">TradingView</text>
</svg></body></html>
